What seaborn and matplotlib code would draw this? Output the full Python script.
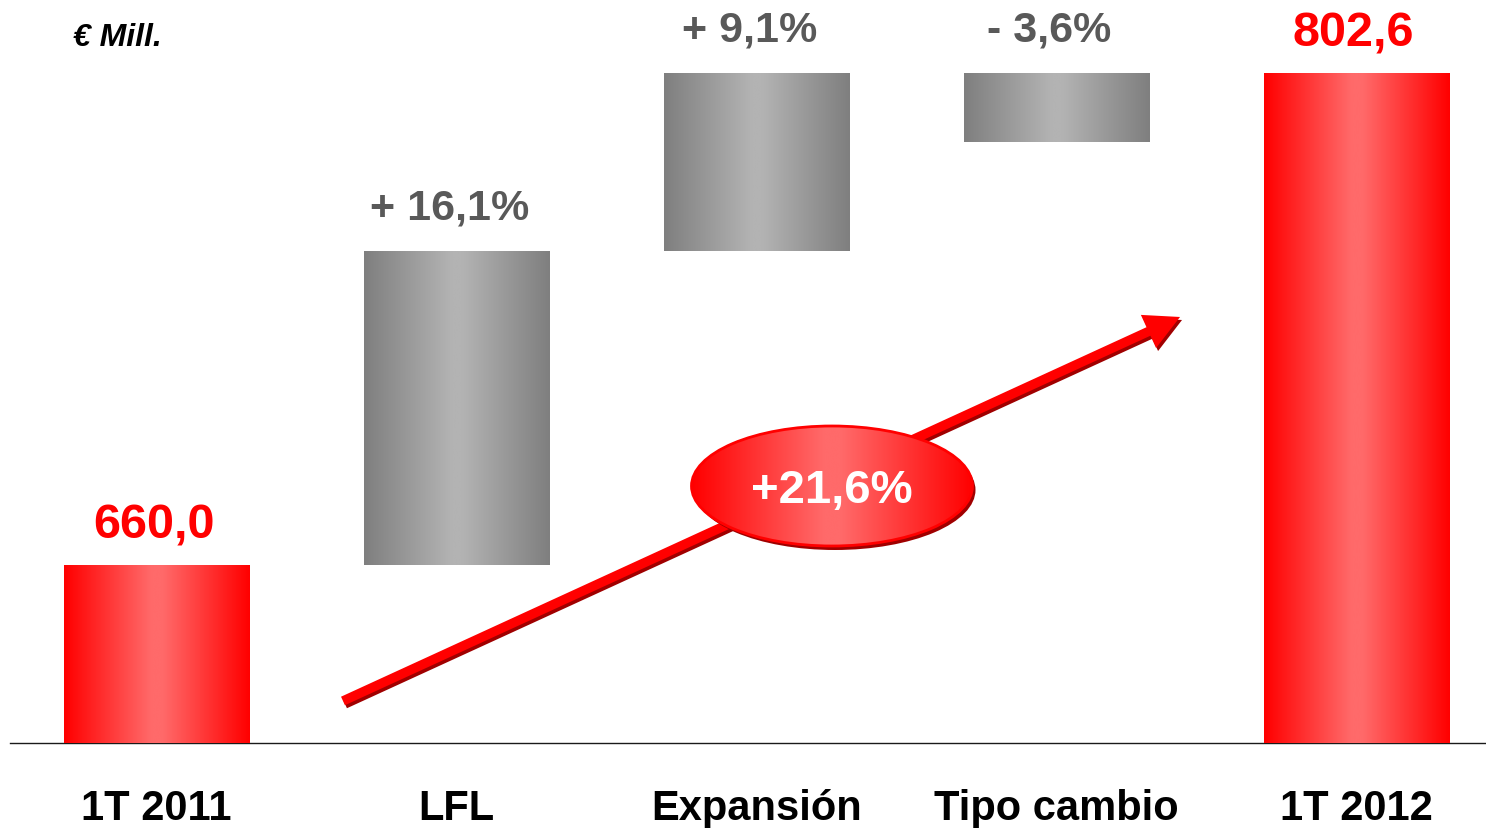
import numpy as np
import matplotlib
matplotlib.use("Agg")
import matplotlib.pyplot as plt
import matplotlib.patches as mpatches
from matplotlib.colors import LinearSegmentedColormap
import seaborn as sns

# ---- data ----
categories = ["1T 2011", "LFL", "Expansión", "Tipo cambio", "1T 2012"]
step_start = [0.0, 660.0, 751.0, 802.6, 0.0]
step_end = [660.0, 751.0, 802.6, 782.6, 802.6]
bar_kind = ["total", "delta", "delta", "delta", "total"]
value_labels = ["660,0", "+ 16,1%", "+ 9,1%", "- 3,6%", "802,6"]
growth_label = "+21,6%"
unit_label = "€ Mill."

axis_floor = 608.4
axis_ceiling = 824.0

sns.set_theme(style="white")
plt.rcParams["font.family"] = ["Liberation Sans", "DejaVu Sans"]

W, H = 1486, 829
fig = plt.figure(figsize=(W / 100, H / 100), dpi=100)
ax = fig.add_axes([10 / W, 1 - 744 / H, 1 - 10 / W, 744 / H])

tops = [max(a, b) for a, b in zip(step_start, step_end)]
bottoms = [max(min(a, b), axis_floor) for a, b in zip(step_start, step_end)]

sns.barplot(x=categories, y=tops, ax=ax, width=0.62, color="#ff0000",
            linewidth=0, zorder=3)

for p, lo, hi in zip(ax.patches, bottoms, tops):
    p.set_y(lo)
    p.set_height(hi - lo)

def grad_cmap(edge, center):
    return LinearSegmentedColormap.from_list(
        "g", [(0.0, edge), (0.47, center), (0.53, center), (1.0, edge)])

red_cmap = grad_cmap("#ff0000", "#ff6a6a")
gray_cmap = grad_cmap("#7f7f7f", "#b3b3b3")
grad = np.linspace(0, 1, 256).reshape(1, -1)

xlim = (-146.5 / 300, (W - 10 - 146.5) / 300)

for p, kind in zip(ax.patches, bar_kind):
    x0 = p.get_x(); w = p.get_width(); y0 = p.get_y(); h = p.get_height()
    cmap = red_cmap if kind == "total" else gray_cmap
    im = ax.imshow(grad, cmap=cmap, extent=[x0, x0 + w, y0, y0 + h],
                   aspect="auto", zorder=3, interpolation="bicubic")
    im.set_clip_path(p)
    p.set_facecolor("none")

# value labels
for i, (top, lab, kind) in enumerate(zip(tops, value_labels, bar_kind)):
    if kind == "total":
        ax.annotate(lab, xy=(i, top), xytext=(-2, 20), textcoords="offset points",
                    ha="center", va="baseline", fontsize=35, fontweight="bold",
                    color="#ff0000", zorder=5, annotation_clip=False)
    else:
        ax.annotate(lab, xy=(i, top), xytext=(-5, 23), textcoords="offset points",
                    ha="center", va="baseline", fontsize=31, fontweight="bold",
                    color="#595959", zorder=5, annotation_clip=False)

# category labels
ax.set_xticks([])
ax.set_yticks([])
for i, c in enumerate(categories):
    ax.annotate(c, xy=(i, 0), xycoords=("data", "axes fraction"),
                xytext=(0, -76 * 0.72), textcoords="offset points",
                ha="center", va="baseline", fontsize=30, fontweight="bold",
                color="#000000", annotation_clip=False)

for s in ["top", "right", "left"]:
    ax.spines[s].set_visible(False)
ax.spines["bottom"].set_color("#1a1a1a")
ax.spines["bottom"].set_linewidth(1.0)
ax.spines["bottom"].set_zorder(2)

# unit label
fig.text(73 / W, 1 - 46 / H, unit_label, fontsize=23, fontweight="bold",
         fontstyle="italic", color="#000000", ha="left", va="baseline")

# growth arrow
tail = (0.2256, 0.0565)
head = (0.7927, 0.5726)
style = mpatches.ArrowStyle.Simple(head_length=1.0, head_width=1.05, tail_width=0.27)
off = 3 / 744
for dx, dy, col, z in [(2 / 1476, -off, "#a00000", 6), (0, 0, "#ff0000", 7)]:
    arr = mpatches.FancyArrowPatch((tail[0] + dx, tail[1] + dy), (head[0] + dx, head[1] + dy),
                                   transform=ax.transAxes, arrowstyle=style,
                                   mutation_scale=25, color=col, lw=0, zorder=z,
                                   shrinkA=0, shrinkB=0, clip_on=False)
    ax.add_patch(arr)

# growth ellipse
cx, cy = 822 / 1476, (744 - 487) / 744
ew, eh = 281 / 1476, 120 / 744
shadow = mpatches.Ellipse((cx + 3 / 1476, cy - 4 / 744), ew, eh, transform=ax.transAxes,
                          facecolor="#a00000", edgecolor="none", zorder=8, clip_on=False)
ax.add_patch(shadow)
ell = mpatches.Ellipse((cx, cy), ew, eh, transform=ax.transAxes,
                       facecolor="none", edgecolor="#ff0000", lw=2.0, zorder=10, clip_on=False)
ax.add_patch(ell)
ell_fill = mpatches.Ellipse((cx, cy), ew, eh, transform=ax.transAxes,
                            facecolor="none", edgecolor="none", zorder=9)
ax.add_patch(ell_fill)
im = ax.imshow(grad, cmap=red_cmap, extent=[cx - ew / 2, cx + ew / 2, cy - eh / 2, cy + eh / 2],
               transform=ax.transAxes, aspect="auto", zorder=9, interpolation="bicubic")
im.set_clip_path(ell_fill)
ax.text(cx, (744 - 503) / 744, growth_label, transform=ax.transAxes, ha="center",
        va="baseline", fontsize=34, fontweight="bold", color="white", zorder=11)

ax.set_aspect("auto")
ax.set_xlim(*xlim)
ax.set_ylim(axis_floor, axis_ceiling)

fig.savefig("out.png", dpi=100)
